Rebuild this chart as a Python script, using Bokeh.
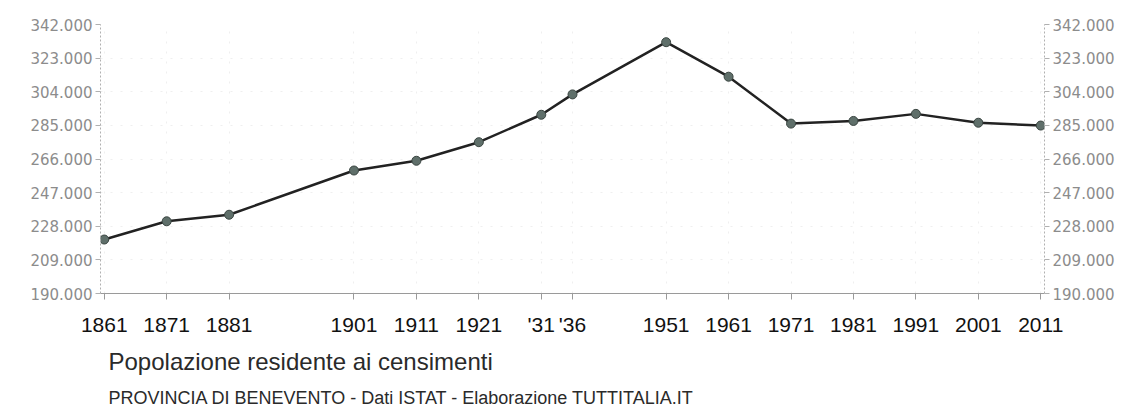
from bokeh.plotting import figure
from bokeh.models import (FixedTicker, LinearAxis, Title, Range1d, CustomJSTickFormatter)
from bokeh.embed import file_html
from bokeh.resources import INLINE

years = [1861, 1871, 1881, 1901, 1911, 1921, 1931, 1936, 1951, 1961, 1971, 1981, 1991, 2001, 2011]
population = [220500, 230800, 234500, 259500, 265000, 275500, 291000, 302500,
              332000, 312500, 286000, 287500, 291500, 286500, 284900]
y_ticks = [190000, 209000, 228000, 247000, 266000, 285000, 304000, 323000, 342000]
x_label_overrides = {1931: "'31", 1936: "'36"}
title_text = "Popolazione residente ai censimenti"
subtitle_text = "PROVINCIA DI BENEVENTO - Dati ISTAT - Elaborazione TUTTITALIA.IT"

p = figure(width=1117, height=412, output_backend="svg", toolbar_location=None,
           x_range=Range1d(1860.4, 2011.6), y_range=Range1d(190000, 342000),
           min_border_left=100, min_border_right=71, min_border_top=24, min_border_bottom=116,
           y_axis_location=None)
p.outline_line_color = None
p.background_fill_color = "white"
p.border_fill_color = "white"

# grids (very faint)
p.xgrid.ticker = FixedTicker(ticks=years)
p.ygrid.ticker = FixedTicker(ticks=y_ticks)
p.xgrid.grid_line_color = "#efefef"
p.xgrid.grid_line_dash = "2 8"
p.ygrid.grid_line_color = "#efefef"
p.ygrid.grid_line_dash = "2 8"

# x axis
xa = p.xaxis[0]
xa.ticker = FixedTicker(ticks=years)
xa.major_label_overrides = x_label_overrides
xa.axis_line_color = "#9a9a9a"
xa.major_tick_line_color = "#9a9a9a"
xa.major_tick_out = 6
xa.major_tick_in = 0
xa.minor_tick_line_color = None
xa.major_label_standoff = 13
xa.major_label_text_font = "Liberation Sans"
xa.major_label_text_font_size = "21px"
xa.major_label_text_color = "#111111"

fmt = CustomJSTickFormatter(code="return tick.toLocaleString('en-US').replace(/,/g, '.');")

for side in ("left", "right"):
    ax = LinearAxis(ticker=FixedTicker(ticks=y_ticks), formatter=fmt)
    ax.axis_line_color = "#b0b0b0"
    ax.axis_line_dash = "2 2"
    ax.major_tick_line_color = "#b0b0b0"
    ax.major_tick_out = 5
    ax.major_tick_in = 0
    ax.minor_tick_line_color = None
    ax.major_label_standoff = 3
    ax.major_label_text_font = "DejaVu Sans"
    ax.major_label_text_font_size = "15px"
    ax.major_label_text_color = "#8c8c8c"
    p.add_layout(ax, side)

p.line(years, population, line_color="#222222", line_width=2.5)
p.scatter(years, population, size=9, fill_color="#5f6f6a", line_color="#3a4541", line_width=1)

p.add_layout(Title(text=title_text, align="left", offset=8, standoff=14,
                   text_font="Liberation Sans", text_font_size="24px", text_font_style="normal",
                   text_color="#2a2a2a"), "below")
p.add_layout(Title(text=subtitle_text, align="left", offset=8, standoff=9,
                   text_font="Liberation Sans", text_font_size="18px", text_font_style="normal",
                   text_color="#2a2a2a"), "below")

open("out.html", "w").write(file_html(p, INLINE))
